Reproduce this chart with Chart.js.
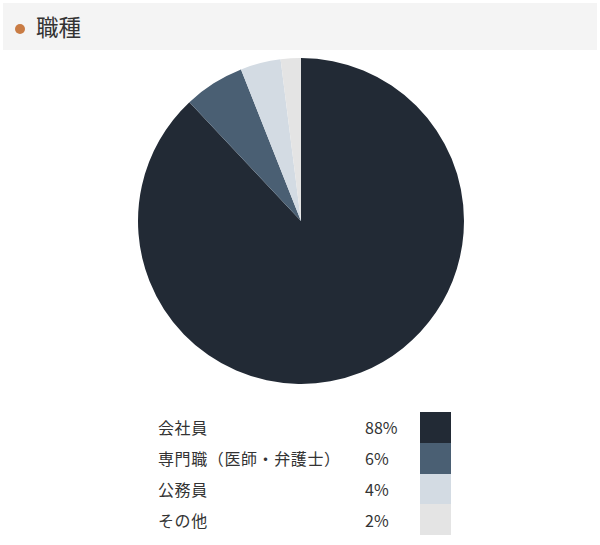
<!DOCTYPE html>
<html lang="ja">
<head>
<meta charset="utf-8">
<title>職種</title>
<script src="https://cdn.jsdelivr.net/npm/chart.js@4"></script>
<style>
  html, body { margin: 0; padding: 0; background: #fff; }
  body { width: 600px; height: 545px; position: relative; overflow: hidden;
         font-family: "Noto Sans CJK JP", "Noto Sans", sans-serif; color: #333; }
  .head { position: absolute; left: 3px; top: 3px; width: 594px; height: 47px; background: #f4f4f4; }
  .head .dot { position: absolute; left: 12px; top: 21px; width: 10px; height: 10px; border-radius: 50%; background: #c97c44; }
  .head h2 { position: absolute; left: 33px; top: 7px; margin: 0; font-size: 22.5px; font-weight: 400; line-height: 32px; color: #333; }
  .chart-box { position: absolute; left: 2px; top: 58px; width: 598px; height: 326px; }
  table.legend { position: absolute; left: 154px; top: 412px; border-collapse: collapse; font-size: 16px; }
  table.legend td { padding: 0; height: 30.75px; line-height: 30px; }
  table.legend td.lab { width: 207px; padding-left: 4px; letter-spacing: 0.6px; font-feature-settings: "fwid"; }
  table.legend td.pct { width: 55px; }
  table.legend td.sw { width: 31px; }
</style>
</head>
<body>
<div class="head"><span class="dot"></span><h2>職種</h2></div>
<div class="chart-box"><canvas id="pie"></canvas></div>
<table class="legend" id="legend"></table>

<script>
// 職種ごとの割合 (%)
const LABELS = ['会社員', '専門職（医師・弁護士）', '公務員', 'その他'];
const VALUES = [88, 6, 4, 2];
const COLORS = ['#222a35', '#4a5f73', '#d3dbe3', '#e4e4e4'];

function renderLegend() {
  const tbl = document.getElementById('legend');
  tbl.innerHTML = LABELS.map((l, i) => `
    <tr>
      <td class="lab">${l}</td>
      <td class="pct">${VALUES[i]}%</td>
      <td class="sw" style="background:${COLORS[i]}"></td>
    </tr>`).join('');
}

function renderPie() {
  new Chart(document.getElementById('pie'), {
    type: 'pie',
    data: {
      labels: LABELS,
      datasets: [{ data: VALUES, backgroundColor: COLORS, borderWidth: 0 }]
    },
    options: {
      responsive: true,
      maintainAspectRatio: false,
      animation: false,
      layout: { padding: 0 },
      plugins: { legend: { display: false }, tooltip: { enabled: false } }
    }
  });
}

renderLegend();
renderPie();
</script>
</body>
</html>
